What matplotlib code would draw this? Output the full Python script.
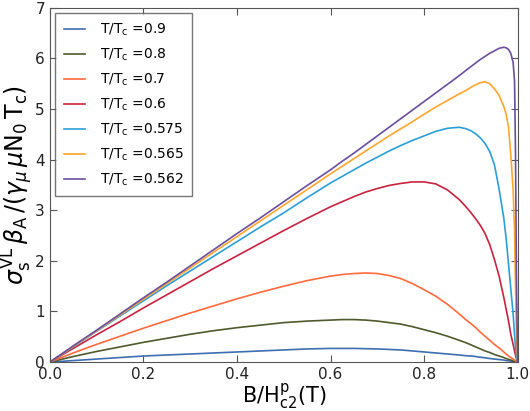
import numpy as np
import matplotlib
matplotlib.use("Agg")
from matplotlib import pyplot as plt

# B / Hc2^p(T), shared by all curves (denser near the upper critical field)
b = [0, 0.05, 0.1, 0.15, 0.2, 0.25, 0.3, 0.35, 0.4, 0.45, 0.5, 0.55, 0.6,
     0.625, 0.65, 0.675, 0.7, 0.725, 0.75, 0.775, 0.8, 0.825, 0.85, 0.875,
     0.89, 0.9, 0.91, 0.92, 0.93, 0.94, 0.95,
     0.96, 0.97, 0.975, 0.98, 0.985, 0.99, 0.993, 0.995, 0.997, 0.999, 1.0]

# sigma values, one list per T/Tc
s_090 = [0, .03, .06, .09, .12, .14, .16, .18, .20, .22, .24, .26, .27,
         .27, .27, .265, .26, .25, .24, .22, .20, .18, .16, .14,
         .125, .12, .11, .095, .085, .07, .06,
         .05, .04, .03, .025, .018, .012, .008, .005, .003, .001, 0]
s_080 = [0, .11, .21, .30, .39, .47, .55, .62, .68, .73, .78, .81, .83,
         .84, .84, .83, .81, .78, .75, .70, .64, .58, .51, .43,
         .38, .34, .30, .26, .22, .19, .15,
         .12, .09, .07, .055, .04, .025, .015, .01, .005, .001, 0]
s_070 = [0, .18, .35, .51, .67, .82, .97, 1.11, 1.25, 1.38, 1.50, 1.61, 1.70,
         1.73, 1.75, 1.76, 1.75, 1.71, 1.65, 1.55, 1.43, 1.30, 1.14, .95,
         .83, .76, .68, .59, .51, .43, .35,
         .28, .20, .16, .12, .09, .06, .04, .03, .015, .005, 0]
s_060 = [0, .27, .54, .80, 1.07, 1.33, 1.59, 1.85, 2.10, 2.35, 2.60, 2.84, 3.07,
         3.17, 3.27, 3.36, 3.43, 3.49, 3.53, 3.56, 3.56, 3.52, 3.40, 3.21,
         3.06, 2.95, 2.83, 2.70, 2.54, 2.32, 2.03,
         1.70, 1.28, 1.05, .82, .55, .35, .22, .14, .07, .02, 0]
s_0575 = [0, .30, .61, .91, 1.21, 1.51, 1.80, 2.09, 2.38, 2.67, 2.95, 3.25, 3.54,
          3.67, 3.80, 3.93, 4.05, 4.17, 4.28, 4.38, 4.47, 4.56, 4.62, 4.64,
          4.61, 4.57, 4.51, 4.43, 4.32, 4.16, 3.90,
          3.42, 2.85, 2.45, 1.95, 1.45, .95, .55, .30, .12, .03, 0]
s_0565 = [0, .31, .62, .93, 1.24, 1.55, 1.86, 2.17, 2.48, 2.79, 3.10, 3.41, 3.72,
          3.87, 4.02, 4.17, 4.32, 4.47, 4.61, 4.75, 4.90, 5.04, 5.17, 5.30,
          5.37, 5.43, 5.48, 5.52, 5.54, 5.50, 5.40,
          5.27, 5.05, 4.90, 4.65, 4.10, 3.40, 2.60, 1.50, .60, .15, 0]
s_0562 = [0, .32, .63, .95, 1.27, 1.58, 1.90, 2.22, 2.54, 2.85, 3.17, 3.49, 3.80,
          3.97, 4.13, 4.30, 4.47, 4.64, 4.81, 4.98, 5.15, 5.32, 5.49, 5.66,
          5.77, 5.84, 5.91, 5.98, 6.04, 6.10, 6.15,
          6.20, 6.22, 6.21, 6.18, 6.10, 5.92, 5.55, 4.20, 1.80, .40, 0]

labels = ["0.9", "0.8", "0.7", "0.6", "0.575", "0.565", "0.562"]
colors = ["#3c6eb0", "#4e5a2c", "#ff6a3d", "#c8223f", "#2b9ed8", "#ffa62e", "#6b4e9e"]
series = [s_090, s_080, s_070, s_060, s_0575, s_0565, s_0562]

plt.rcParams["font.family"] = "DejaVu Sans"

fig = plt.figure(figsize=(5.3, 4.11), dpi=100)
ax = fig.add_axes([0.094, 0.119, 0.883, 0.862])

for s, lab, c in zip(series, labels, colors):
    ax.plot(b, s, color=c, lw=1.2, label=r"$\mathrm{T/T_c}$ =" + lab)

ax.set_xlim(0, 1)
ax.set_ylim(0, 7)
ax.set_xticks([0, 0.2, 0.4, 0.6, 0.8, 1.0])
ax.set_yticks(range(8))
ax.tick_params(direction="in", top=True, right=True, length=5,
               labelsize=11, colors="#555555", labelcolor="#222222")
for sp in ax.spines.values():
    sp.set_color("#555555")

ax.set_xlabel(r"$\mathrm{B/H_{c2}^{p}(T)}$", fontsize=15, labelpad=0)
ax.set_ylabel(r"$\sigma_\mathrm{s}^\mathrm{VL}\,\beta_\mathrm{A}\,/(\gamma_\mu\,\mu\mathrm{N_0\,T_c})$",
              fontsize=17, labelpad=0)

leg = ax.legend(loc="upper left", fontsize=10, fancybox=False,
                handlelength=1.5, handletextpad=1.1, borderpad=0.6,
                labelspacing=0.62, borderaxespad=0.4)
leg.get_frame().set_edgecolor("#555555")

fig.savefig("out.png", dpi=100)
